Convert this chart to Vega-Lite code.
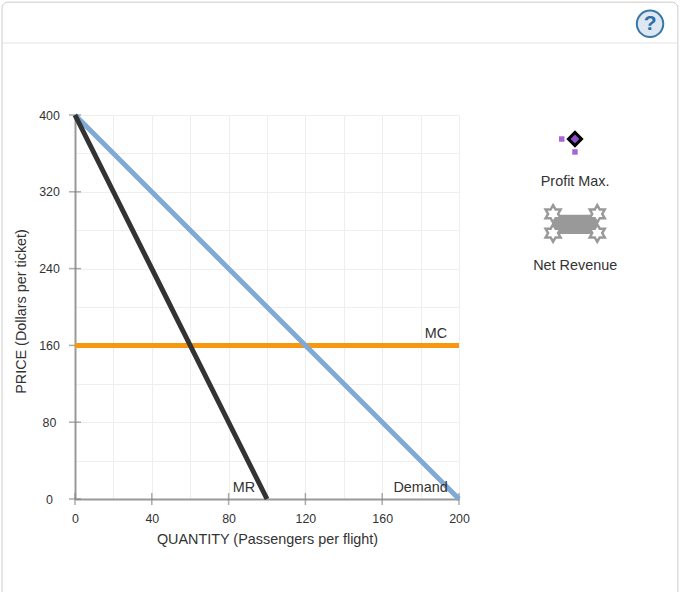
{
  "$schema": "https://vega.github.io/schema/vega-lite/v6.json",
  "autosize": {"type": "none"},
  "padding": {"left": 75, "top": 115, "right": 223, "bottom": 93},
  "width": 384,
  "height": 384,
  "background": "#ffffff",
  "config": {
    "view": {"stroke": null},
    "font": "Liberation Sans",
    "text": {"font": "Liberation Sans"}
  },
  "datasets": {
    "frame": [{"x": -38, "x2": 314, "y": 517.5, "y2": -110}],
    "header": [{"x": -38, "x2": 314, "y": 475}],
    "curves": [
      {"series": "MC", "x": 0, "y": 160},
      {"series": "MC", "x": 200, "y": 160},
      {"series": "Demand", "x": 0, "y": 400},
      {"series": "Demand", "x": 200, "y": 0},
      {"series": "MR", "x": 0, "y": 400},
      {"series": "MR", "x": 100, "y": 0}
    ],
    "xticks": [
      {"x": 0, "y": 0}, {"x": 40, "y": 0}, {"x": 80, "y": 0},
      {"x": 120, "y": 0}, {"x": 160, "y": 0}, {"x": 200, "y": 0}
    ],
    "yticks": [
      {"x": 0, "y": 0}, {"x": 0, "y": 80}, {"x": 0, "y": 160},
      {"x": 0, "y": 240}, {"x": 0, "y": 320}, {"x": 0, "y": 400}
    ],
    "labels": [
      {"x": 188, "y": 172, "label": "MC"},
      {"x": 88, "y": 11.5, "label": "MR"},
      {"x": 180, "y": 11.5, "label": "Demand"},
      {"x": 260.5, "y": 330, "label": "Profit Max."},
      {"x": 260.5, "y": 243, "label": "Net Revenue"}
    ],
    "netBody": [{"x": 249, "x2": 272, "y": 296, "y2": 276}],
    "netStars": [
      {"x": 249, "y": 297},
      {"x": 272, "y": 297},
      {"x": 249, "y": 277},
      {"x": 272, "y": 277}
    ],
    "handles": [{"x": 253.5, "y": 375}, {"x": 260.4, "y": 361.5}],
    "profit": [{"x": 260.4, "y": 375}],
    "help": [{"x": 299.5, "y": 495, "label": "?"}]
  },
  "encoding": {
    "x": {
      "field": "x",
      "type": "quantitative",
      "scale": {"domain": [0, 200], "nice": false, "zero": false},
      "axis": {
        "title": "QUANTITY (Passengers per flight)",
        "titleFont": "Liberation Sans",
        "titleFontSize": 14.4,
        "titleFontWeight": "normal",
        "titleColor": "#333333",
        "titleY": 33,
        "values": [0, 20, 40, 60, 80, 100, 120, 140, 160, 180, 200],
        "labelExpr": "datum.value % 40 == 0 ? datum.label : ''",
        "labelFont": "Liberation Sans",
        "labelFontSize": 12.4,
        "labelColor": "#333333",
        "labelPadding": 13,
        "labelFlush": false,
        "labelOverlap": false,
        "ticks": false,
        "domainColor": "#999999",
        "domainWidth": 2,
        "grid": true,
        "gridColor": "#eeeeee",
        "gridWidth": 1
      }
    },
    "y": {
      "field": "y",
      "type": "quantitative",
      "scale": {"domain": [0, 400], "nice": false, "zero": false},
      "axis": {
        "title": "PRICE (Dollars per ticket)",
        "titleFont": "Liberation Sans",
        "titleFontSize": 14.4,
        "titleFontWeight": "normal",
        "titleColor": "#333333",
        "titleX": -47,
        "titleY": 196,
        "values": [0, 40, 80, 120, 160, 200, 240, 280, 320, 360, 400],
        "labelExpr": "datum.value % 80 == 0 ? datum.label : ''",
        "labelFont": "Liberation Sans",
        "labelFontSize": 12.4,
        "labelColor": "#333333",
        "labelAlign": "center",
        "labelPadding": 26,
        "labelFlush": false,
        "labelOverlap": false,
        "ticks": false,
        "domainColor": "#999999",
        "domainWidth": 2,
        "grid": true,
        "gridColor": "#eeeeee",
        "gridWidth": 1
      }
    }
  },
  "layer": [
    {
      "data": {"name": "frame"},
      "mark": {"type": "rect", "fill": null, "stroke": "#cccccc", "strokeWidth": 1, "cornerRadius": 6},
      "encoding": {"x2": {"field": "x2"}, "y2": {"field": "y2"}}
    },
    {
      "data": {"name": "header"},
      "mark": {"type": "rule", "color": "#e3e3e3", "strokeWidth": 1},
      "encoding": {"x2": {"field": "x2"}}
    },
    {
      "data": {"name": "xticks"},
      "mark": {"type": "tick", "orient": "vertical", "size": 12, "thickness": 1.5, "color": "#888888"},
      "encoding": {}
    },
    {
      "data": {"name": "yticks"},
      "mark": {"type": "tick", "orient": "horizontal", "size": 12, "thickness": 1.5, "color": "#888888"},
      "encoding": {}
    },
    {
      "data": {"name": "curves"},
      "mark": {"type": "line", "strokeWidth": 5, "clip": false},
      "encoding": {
        "order": {"field": "x"},
        "detail": {"field": "series"},
        "color": {
          "field": "series",
          "type": "nominal",
          "legend": null,
          "scale": {"domain": ["MC", "Demand", "MR"], "range": ["#f7980f", "#7fa9d6", "#333333"]}
        }
      }
    },
    {
      "data": {"name": "labels"},
      "mark": {"type": "text", "fontSize": 14.4, "color": "#333333", "align": "center", "baseline": "middle", "font": "Liberation Sans"},
      "encoding": {"text": {"field": "label"}}
    },
    {
      "data": {"name": "netBody"},
      "mark": {"type": "rect", "fill": "#999999", "cornerRadius": 6},
      "encoding": {"x2": {"field": "x2"}, "y2": {"field": "y2"}}
    },
    {
      "data": {"name": "netStars"},
      "mark": {
        "type": "point",
        "filled": true,
        "fill": "#ffffff",
        "stroke": "#999999",
        "strokeWidth": 2.5,
        "opacity": 1,
        "size": 300,
        "shape": "M0,-1L.289,-.5L.866,-.5L.577,0L.866,.5L.289,.5L0,1L-.289,.5L-.866,.5L-.577,0L-.866,-.5L-.289,-.5Z"
      },
      "encoding": {}
    },
    {
      "data": {"name": "handles"},
      "mark": {"type": "square", "color": "#a666d9", "opacity": 1, "size": 30},
      "encoding": {}
    },
    {
      "data": {"name": "profit"},
      "mark": {"type": "point", "shape": "diamond", "filled": true, "fill": "#8a4fc7", "stroke": "#000000", "strokeWidth": 3, "opacity": 1, "size": 170},
      "encoding": {}
    },
    {
      "data": {"name": "help"},
      "mark": {"type": "point", "shape": "circle", "filled": true, "fill": "#dce7f2", "stroke": "#3b78a8", "strokeWidth": 2, "opacity": 1, "size": 700},
      "encoding": {}
    },
    {
      "data": {"name": "help"},
      "mark": {"type": "text", "fontSize": 21, "fontWeight": "bold", "color": "#2f6ea5", "align": "center", "baseline": "middle", "font": "Liberation Sans"},
      "encoding": {"text": {"field": "label"}}
    }
  ]
}
